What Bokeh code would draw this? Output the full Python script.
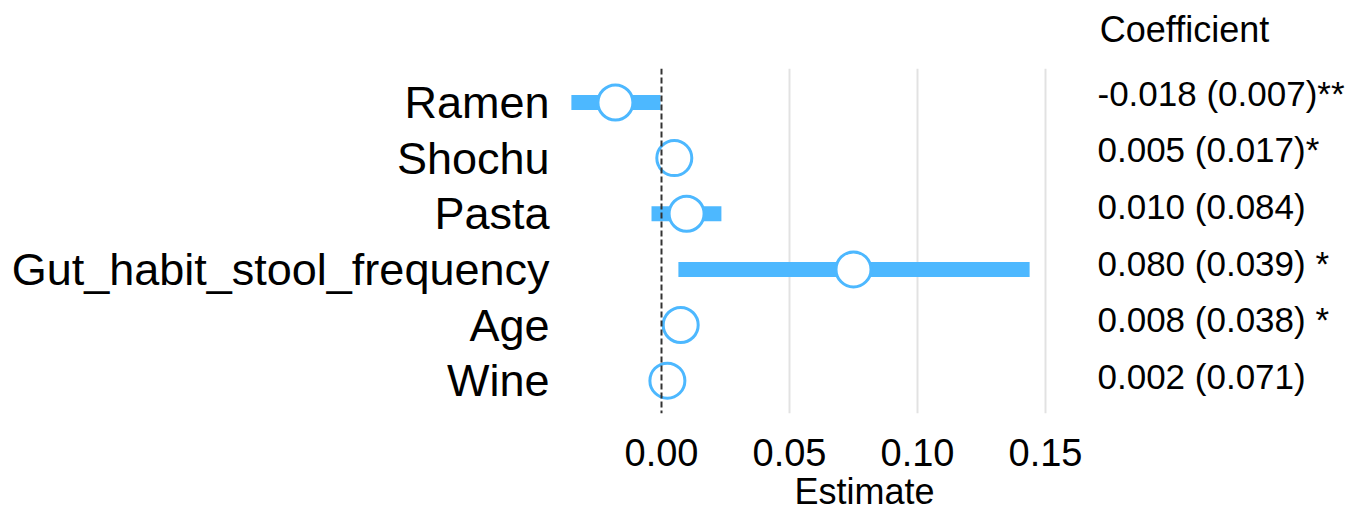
from bokeh.plotting import figure
from bokeh.models import (Range1d, FixedTicker, Span, Title, LinearAxis,
                          ColumnDataSource, PrintfTickFormatter)
from bokeh.core.properties import value
from bokeh.embed import file_html
from bokeh.resources import INLINE

# ---- data ----
terms = ["Ramen", "Shochu", "Pasta", "Gut_habit_stool_frequency", "Age", "Wine"]
estimate = [-0.018, 0.005, 0.0098, 0.075, 0.0075, 0.0023]
ci_low = [-0.0352, 0.0015, -0.0039, 0.0066, 0.0045, -0.0003]
ci_high = [-0.0004, 0.0085, 0.0234, 0.1438, 0.0105, 0.0049]
coef_text = ["-0.018 (0.007)**", "0.005 (0.017)*", "0.010 (0.084)",
             "0.080 (0.039) *", "0.008 (0.038) *", "0.002 (0.071)"]
x_ticks = [0.0, 0.05, 0.10, 0.15]
header = "Coefficient"
x_title = "Estimate"

BLUE = "#4db8ff"
FONT = "Liberation Sans"

n = len(terms)
ypos = [n - 1 - i for i in range(n)]

# layout (pixels)
W, H = 1368, 518
FL, FT, FB = 560, 68, 413          # frame left / top / bottom
PX_PER_X = 2560.0                  # pixels per unit of estimate
X0 = -(661 - FL) / PX_PER_X
X1 = X0 + (W - FL) / PX_PER_X
Y0, Y1 = -0.59, 5.61
PX_PER_Y = (FB - FT) / (Y1 - Y0)

def px_to_y(py):
    return Y1 - (py - FT) / PX_PER_Y

# coefficient column text: centred rows, slightly wider spacing than the plot rows
COL_TOP, COL_STEP = 92.5, 56.7
src = ColumnDataSource(dict(
    y=ypos, est=estimate, lo=ci_low, hi=ci_high, coef=coef_text,
    ty=[px_to_y(COL_TOP + COL_STEP * i) for i in range(n)],
))

p = figure(width=W, height=H, output_backend="svg", toolbar_location=None,
           x_range=Range1d(X0, X1), y_range=Range1d(Y0, Y1),
           min_border_left=FL, min_border_right=0,
           min_border_top=FT, min_border_bottom=H - FB)
p.outline_line_color = None
p.background_fill_color = "white"
p.border_fill_color = "white"

# x axis
xax = p.below[0]
xax.ticker = FixedTicker(ticks=x_ticks)
xax.formatter = PrintfTickFormatter(format="%.2f")
xax.axis_line_color = None
xax.major_tick_line_color = None
xax.minor_tick_line_color = None
xax.major_label_text_font = FONT
xax.major_label_text_font_size = "38px"
xax.major_label_text_color = "black"
xax.major_label_standoff = 19

# y axis
yax = p.left[0]
yax.ticker = FixedTicker(ticks=ypos)
yax.major_label_overrides = {y: t for y, t in zip(ypos, terms)}
yax.axis_line_color = None
yax.major_tick_line_color = None
yax.minor_tick_line_color = None
yax.major_label_text_font = FONT
yax.major_label_text_font_size = "45px"
yax.major_label_text_color = "black"
yax.major_label_standoff = 5

# grid
p.ygrid.grid_line_color = None
p.xgrid.ticker = FixedTicker(ticks=[t for t in x_ticks if t != 0])
p.xgrid.grid_line_color = "#e2e2e2"
p.xgrid.grid_line_width = 2

# intervals and points
p.segment(x0="lo", y0="y", x1="hi", y1="y", source=src,
          line_width=15, line_color=BLUE, line_cap="butt")
p.scatter(x="est", y="y", source=src, size=35, fill_color="white",
          line_color=BLUE, line_width=3)

# zero reference line (drawn above the points, as in the reference)
p.add_layout(Span(location=0, dimension="height", line_color="#333333",
                  line_dash="6 3", line_width=2))

# coefficient column (inside the frame, to the right of the data)
TX = (1097 - 661) / PX_PER_X
p.text(x=TX, y="ty", text="coef", source=src,
       text_font=value(FONT), text_font_size=value("35px"),
       text_color="black", text_baseline="middle", text_align="left")

# column header: a label-only axis above the frame
HX = round((1184 - 661) / PX_PER_X, 4)
hdr = LinearAxis(ticker=FixedTicker(ticks=[HX]),
                 major_label_overrides={HX: header},
                 axis_line_color=None, major_tick_line_color=None,
                 minor_tick_line_color=None,
                 major_label_text_font=FONT, major_label_text_font_size="36px",
                 major_label_text_color="black", major_label_standoff=13)
p.add_layout(hdr, "above")

# x axis title, centred under the 0.00-0.15 region
p.add_layout(Title(text=x_title, align="left", offset=864 - FL - 70,
                   text_font=FONT, text_font_size="36px",
                   text_font_style="normal", text_color="black",
                   standoff=0), "below")

open("out.html", "w").write(file_html(p, INLINE))
